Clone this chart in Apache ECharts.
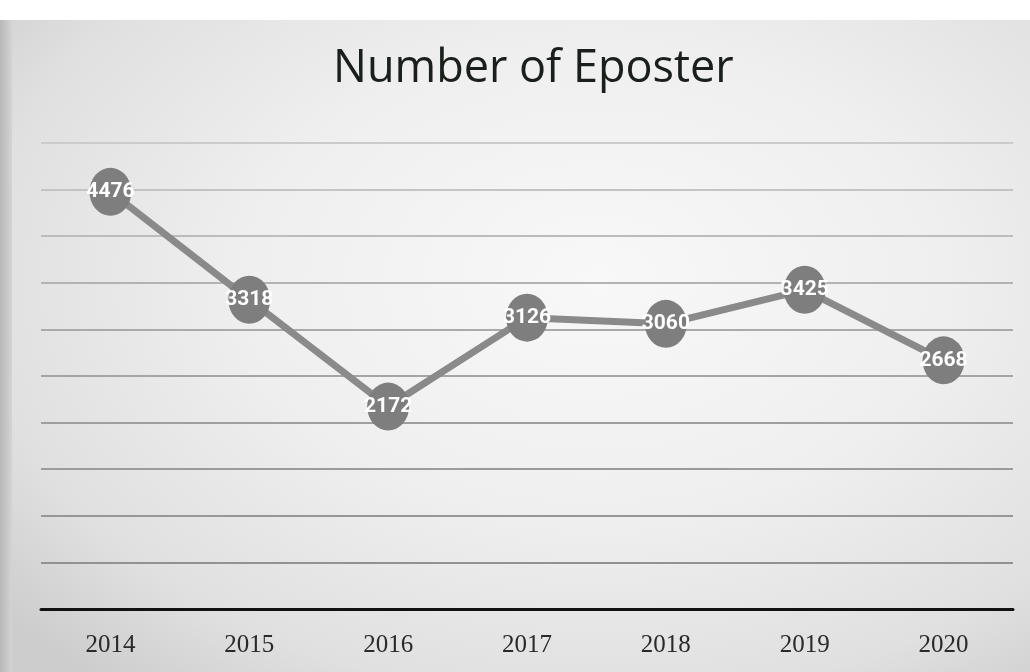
<!DOCTYPE html>
<html>
<head>
<meta charset="utf-8">
<script src="https://cdn.jsdelivr.net/npm/echarts@6/dist/echarts.min.js"></script>
<style>
html,body{margin:0;padding:0;width:1030px;height:672px;overflow:hidden;background:#fff;}
#bg{position:absolute;left:0;top:20px;width:1030px;height:652px;
background:radial-gradient(ellipse 75% 80% at 58% 40%, #f8f8f8 0%, #efefef 45%, #e0e0e0 80%, #cdcdcd 100%);}
#edge{position:absolute;left:0;top:20px;width:12px;height:652px;background:linear-gradient(to right,#b8b8b8,#d4d4d4);}
#chart{position:absolute;left:0;top:0;width:1030px;height:672px;}
</style>
</head>
<body>
<div id="bg"></div>
<div id="edge"></div>
<div id="chart"></div>
<script>
const categories = ['2014','2015','2016','2017','2018','2019','2020'];
const values = [4476, 3318, 2172, 3126, 3060, 3425, 2668];
const titleText = 'Number of Eposter';

const chart = echarts.init(document.getElementById('chart'));
chart.setOption({
  backgroundColor: 'transparent',
  animation: false,
  title: {
    text: titleText,
    left: 328,
    top: 42,
    textStyle: { fontFamily: 'Open Sans', fontSize: 45, fontWeight: 500, color: '#1a1f1c' }
  },
  grid: { left: 41, right: 17, top: 143, bottom: 63, containLabel: false },
  xAxis: {
    type: 'category',
    data: categories,
    boundaryGap: true,
    axisLine: { lineStyle: { color: '#111', width: 3 } },
    axisTick: { show: false },
    axisLabel: { fontFamily: 'Liberation Serif, serif', fontSize: 25, color: '#2a2a2a', margin: 24 }
  },
  yAxis: {
    type: 'value',
    min: 0, max: 5000, interval: 500,
    axisLine: { show: false },
    axisTick: { show: false },
    axisLabel: { show: false },
    splitLine: { lineStyle: { color: ['#888','#929292','#979797','#9b9b9b','#9f9f9f','#a5a5a5','#aaaaaa','#b3b3b3','#bcbcbc','#c4c4c4','#cbcbcb'], width: 2 } }
  },
  series: [{
    type: 'line',
    data: values,
    symbol: 'circle',
    symbolSize: [42, 48],
    lineStyle: { color: '#8a8a8a', width: 7 },
    itemStyle: { color: '#7e7e7e' },
    label: {
      show: true,
      position: 'inside',
      color: '#ffffff',
      fontWeight: 'bold',
      fontSize: 21,
      fontFamily: 'Roboto, sans-serif'
    }
  }]
});
</script>
</body>
</html>
